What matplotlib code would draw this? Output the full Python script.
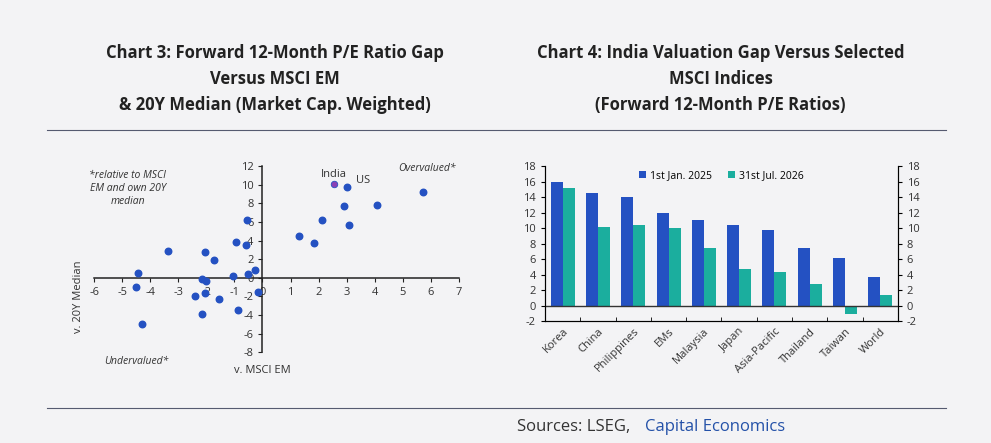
import matplotlib
matplotlib.use('agg')
import matplotlib.pyplot as plt
import numpy as np

# chart 3 data: (v. MSCI EM, v. 20Y median)
gap_x = [3.02, 5.71, 2.92, 4.07, 2.12, 3.07, 1.32, 1.84, -0.55, -0.93, -0.59,
         -3.38, -2.05, -1.74, -4.44, -0.26, -0.53, -1.04, -2.17, -2.01, -4.51,
         -2.40, -2.05, -1.56, -0.16, -2.16, -0.86, -4.28]
gap_y = [9.75, 9.2, 7.73, 7.85, 6.25, 5.7, 4.45, 3.7, 6.2, 3.8, 3.5,
         2.9, 2.8, 1.9, 0.47, 0.8, 0.4, 0.15, -0.1, -0.3, -1.0,
         -1.95, -1.6, -2.27, -1.55, -3.85, -3.5, -4.96]
india_x, india_y = 2.54, 10.1

# chart 4 data
countries = ['Korea', 'China', 'Philippines', 'EMs', 'Malaysia', 'Japan',
             'Asia-Pacific', 'Thailand', 'Taiwan', 'World']
jan_2025 = [16.0, 14.5, 14.0, 11.9, 11.0, 10.4, 9.8, 7.5, 6.1, 3.7]
jul_2026 = [15.2, 10.2, 10.4, 10.0, 7.4, 4.7, 4.4, 2.8, -1.1, 1.4]

bg = '#f3f3f5'
blue = '#2451c2'
teal = '#1bae9e'
plt.rcParams['font.family'] = ['Open Sans', 'DejaVu Sans']
plt.rcParams['axes.unicode_minus'] = False

fig = plt.figure(figsize=(9.91, 4.43), dpi=100, facecolor=bg)

# titles
fig.text(0.277, 0.9, 'Chart 3: Forward 12-Month P/E Ratio Gap\nVersus MSCI EM\n& 20Y Median (Market Cap. Weighted)',
         ha='center', va='top', fontsize=12, fontweight='bold', linespacing=1.55, color='#222222')
fig.text(0.727, 0.9, 'Chart 4: India Valuation Gap Versus Selected\nMSCI Indices\n(Forward 12-Month P/E Ratios)',
         ha='center', va='top', fontsize=12, fontweight='bold', linespacing=1.55, color='#222222')
fig.add_artist(plt.Line2D([0.047, 0.955], [0.706, 0.706], color='#555a70', lw=0.8))
fig.add_artist(plt.Line2D([0.047, 0.955], [0.079, 0.079], color='#555a70', lw=0.8))
fig.text(0.522, 0.035, 'Sources: LSEG,', ha='left', va='center', fontsize=12, color='#333333')
fig.text(0.651, 0.035, 'Capital Economics', ha='left', va='center', fontsize=12, color='#2451a8')

# chart 3 scatter
ax = fig.add_axes([0.095, 0.205, 0.368, 0.42], facecolor=bg)
ax.scatter(gap_x, gap_y, s=22, color=blue, zorder=3)
ax.scatter([india_x], [india_y], s=22, color='#8b3fb5', edgecolor=blue, lw=0.6, zorder=3)
ax.set_xlim(-6, 7)
ax.set_ylim(-8, 12)
for s in ['top', 'right']:
    ax.spines[s].set_visible(False)
ax.spines['left'].set_position(('data', 0))
ax.spines['bottom'].set_position(('data', 0))
for s in ['left', 'bottom']:
    ax.spines[s].set_color('#222222')
    ax.spines[s].set_linewidth(1.1)
ax.set_xticks(np.arange(-6, 8, 1))
ax.set_yticks(np.arange(-8, 13, 2))
ax.tick_params(labelsize=8, length=3, color='#222222', labelcolor='#333333')
ax.text(2.54, 10.8, 'India', fontsize=8, ha='center', color='#333333')
ax.text(3.35, 10.2, 'US', fontsize=8, ha='left', color='#333333')
ax.text(6.9, 11.5, 'Overvalued*', fontsize=7.5, style='italic', ha='right', color='#333333')
ax.text(-4.8, 9.6, '*relative to MSCI\nEM and own 20Y\nmedian', fontsize=7.5, style='italic',
        ha='center', va='center', color='#333333')
ax.text(-4.5, -9.3, 'Undervalued*', fontsize=7.5, style='italic', ha='center', color='#333333')
ax.text(0, -10.2, 'v. MSCI EM', fontsize=8, ha='center', color='#333333')
ax.text(-6.55, -2, 'v. 20Y Median', fontsize=8, rotation=90, ha='center', va='center', color='#333333')

# chart 4 bars
bx = fig.add_axes([0.55, 0.275, 0.356, 0.35], facecolor=bg)
idx = np.arange(len(countries))
w = 0.34
bx.bar(idx - w / 2, jan_2025, w, color=blue, label='1st Jan. 2025', zorder=2)
bx.bar(idx + w / 2, jul_2026, w, color=teal, label='31st Jul. 2026', zorder=2)
bx.axhline(0, color='#333333', lw=1.0, zorder=3)
bx.set_xlim(-0.5, len(countries) - 0.5)
bx.set_ylim(-2, 18)
bx.set_yticks(np.arange(-2, 19, 2))
bx.set_xticks(idx)
bx.set_xticklabels(countries, rotation=45, ha='right', rotation_mode='anchor')
bx.set_xticks(np.arange(-0.5, len(countries), 1), minor=True)
bx.tick_params(axis='x', which='major', length=0, labelsize=8, labelcolor='#333333')
bx.tick_params(axis='x', which='minor', length=3, direction='in')
bx.tick_params(axis='y', labelsize=8, length=3, labelcolor='#333333')
bx.spines['top'].set_visible(False)
for s in ['left', 'right', 'bottom']:
    bx.spines[s].set_color('#222222')
bx2 = bx.twinx()
bx2.set_ylim(-2, 18)
bx2.set_yticks(np.arange(-2, 19, 2))
bx2.tick_params(axis='y', labelsize=8, length=3, labelcolor='#333333')
bx2.spines['top'].set_visible(False)
bx.legend(loc='upper center', ncol=2, frameon=False, fontsize=7.5, handlelength=0.7,
          handleheight=0.7, columnspacing=1.5, handletextpad=0.4, borderaxespad=0.0)

fig.savefig('out.png', dpi=100, facecolor=bg)
